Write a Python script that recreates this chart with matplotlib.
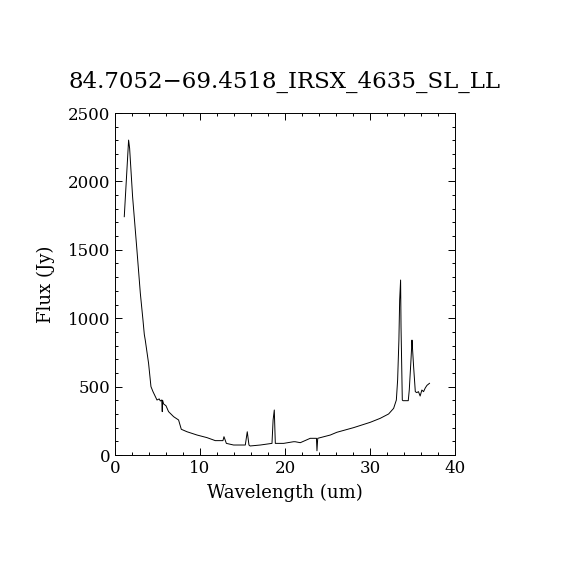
import matplotlib
matplotlib.use("Agg")
import matplotlib.pyplot as plt
from matplotlib.ticker import MultipleLocator

# spectrum (wavelength in um, flux in Jy)
wave = [1.09, 1.6, 1.72, 2.07, 2.58, 2.98, 3.29, 3.4, 3.45, 3.56, 3.95, 4.23,
        4.47, 4.94, 5.2, 5.33, 5.5, 5.56, 5.6, 5.72, 6.0, 6.3, 6.9, 7.48, 7.8,
        8.47, 9.65, 10.82, 11.8, 12.7, 12.82, 13.1, 13.95, 15.33, 15.56, 15.76,
        15.9, 17.1, 18.47, 18.6, 18.74, 18.86, 19.84, 21.0, 21.2, 21.8, 22.97,
        23.7, 23.76, 23.85, 25.33, 26.1, 28.07, 30.03, 31.2, 32.19, 32.78,
        33.1, 33.25, 33.4, 33.49, 33.6, 33.65, 33.8, 33.88, 34.5, 34.62, 34.82,
        34.94, 35.0, 35.13, 35.33, 35.5, 35.7, 35.9, 36.1, 36.3, 36.5, 36.7, 37.0]
flux = [1742, 2302, 2242, 1888, 1498, 1182, 987, 913, 880, 840, 670, 500,
        463, 402, 410, 395, 402, 317, 400, 373, 360, 317, 280, 256, 188,
        170, 146, 127, 105, 105, 134, 85, 73, 73, 170, 73,
        66, 73, 85, 256, 329, 85, 85, 97, 97, 90, 122,
        122, 31, 122, 146, 166, 200, 239, 268, 300, 341,
        402, 548, 840, 1133, 1279, 938, 402, 397, 397, 475, 694,
        840, 780, 646, 463, 456, 463, 431, 475, 463, 490, 509, 524]

title = "84.7052\u221269.4518_IRSX_4635_SL_LL"

plt.rcParams['font.family'] = 'DejaVu Serif'

fig = plt.figure(figsize=(5.7, 5.7), dpi=100)
ax = fig.add_axes([115/570, 115/570, 340/570, 342/570])
ax.plot(wave, flux, color='black', lw=0.7)

ax.set_xlim(0, 40)
ax.set_ylim(0, 2500)
ax.xaxis.set_major_locator(MultipleLocator(10))
ax.xaxis.set_minor_locator(MultipleLocator(2))
ax.yaxis.set_major_locator(MultipleLocator(500))
ax.yaxis.set_minor_locator(MultipleLocator(100))
ax.tick_params(which='both', direction='in', top=True, right=True,
               labelsize=12, width=0.7)
ax.tick_params(which='major', length=5)
ax.tick_params(which='minor', length=2.5)
for s in ax.spines.values():
    s.set_linewidth(0.7)

ax.set_xlabel("Wavelength (um)", fontsize=13, labelpad=5)
ax.set_ylabel("Flux (Jy)", fontsize=13, labelpad=9)
ax.set_title(title, fontsize=16.5, pad=18)

fig.savefig("out.png", dpi=100)
